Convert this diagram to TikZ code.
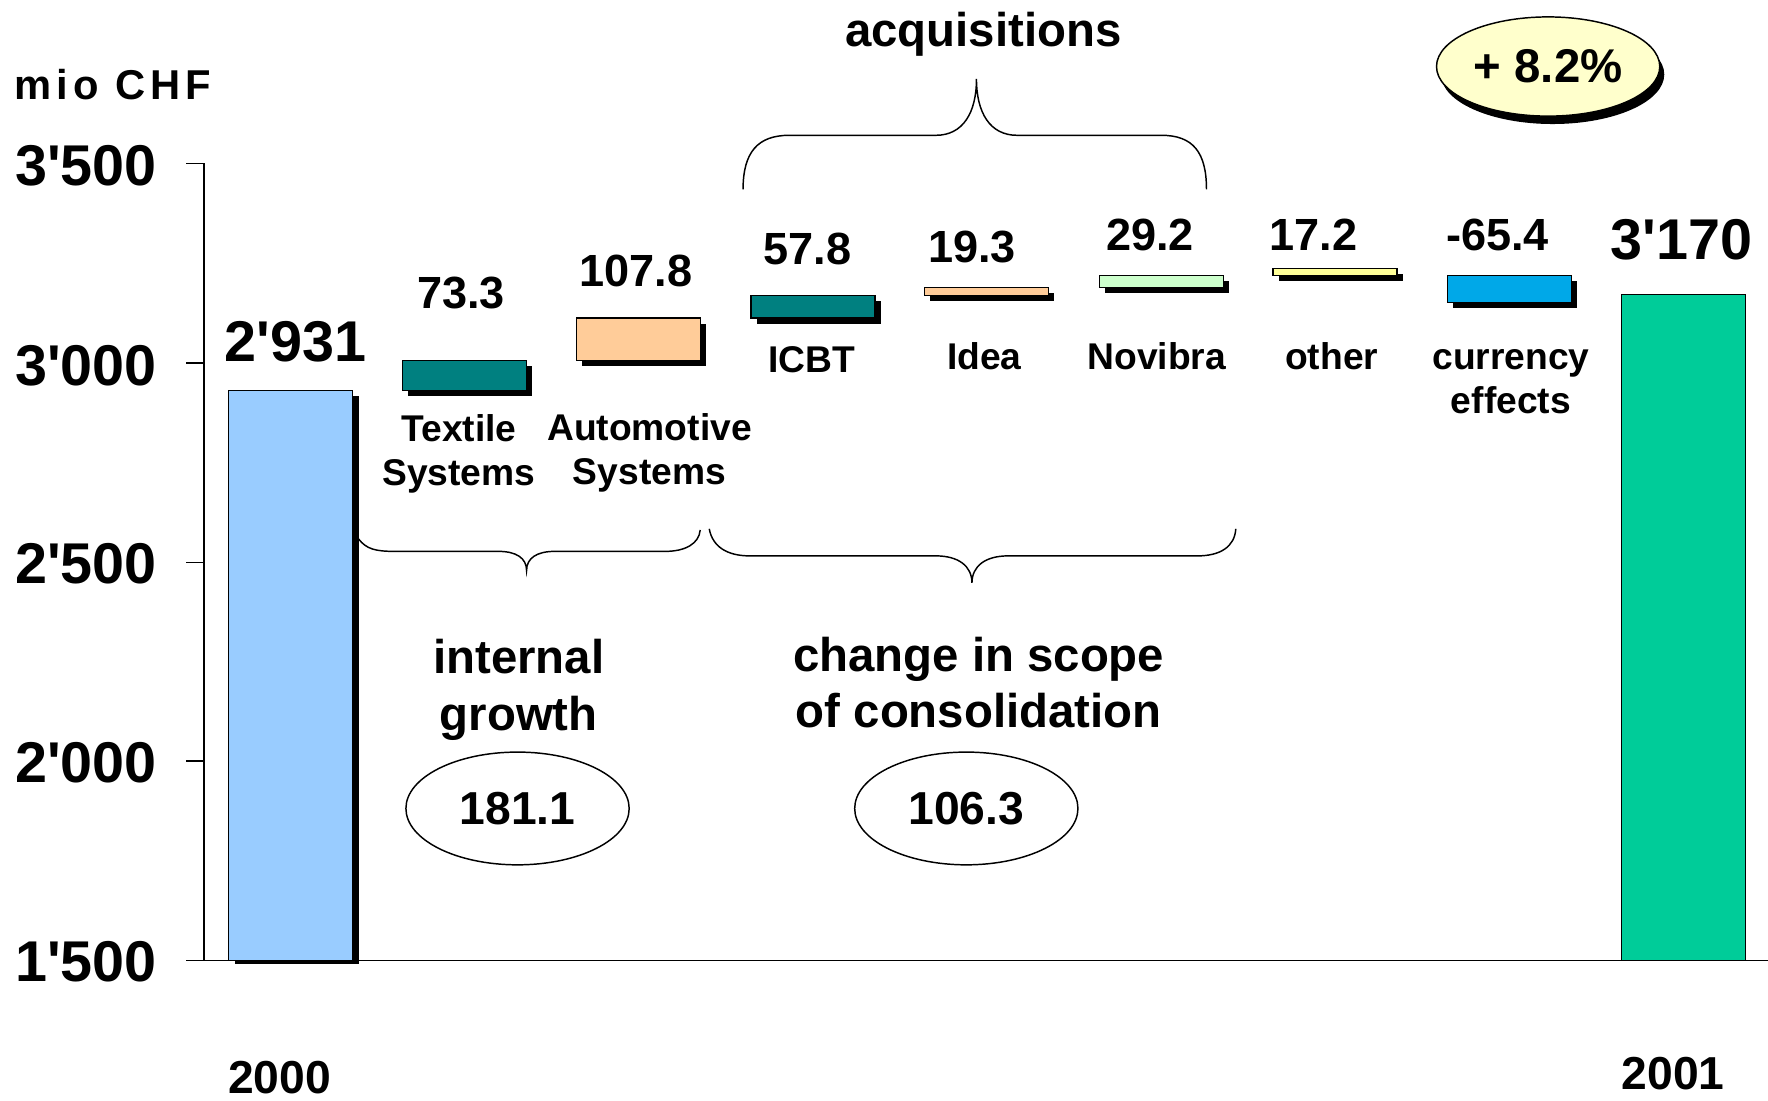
\documentclass[tikz,border=0pt]{standalone}
\usepackage{fontspec}
\setmainfont{Liberation Sans}
\usetikzlibrary{shapes.geometric}
\definecolor{cBlueBar}{HTML}{99CCFF}
\definecolor{cTeal}{HTML}{008080}
\definecolor{cPeach}{HTML}{FFCC99}
\definecolor{cMint}{HTML}{CCFFCC}
\definecolor{cLightYel}{HTML}{FFFF99}
\definecolor{cCurr}{HTML}{00A8E8}
\definecolor{cGreen}{HTML}{00CC99}
\definecolor{cEllYel}{HTML}{FFFFCC}
\newcommand\fsz[2]{\fontsize{#1}{#2}\selectfont\bfseries}
\newcommand\stq{\textquotesingle}
\newcommand\wfbar[5]{%
  \fill[black] (#1+5,#2+5) rectangle (#3+5,#4+5);
  \filldraw[fill=#5, draw=black, line width=1pt] (#1,#2) rectangle (#3,#4);}
\begin{document}
\begin{tikzpicture}[x=1pt,y=-1pt,
  txt/.style={inner sep=0pt, outer sep=0pt},
  axislbl/.style={txt, anchor=east, font=\fsz{51}{60}},
  vallbl/.style={txt, font=\fsz{40}{48}},
  biglbl/.style={txt, font=\fsz{51}{60}},
  catlbl/.style={txt, font=\fsz{33}{39}},
  grplbl/.style={txt, font=\fsz{42}{50}},
  ell/.style={ellipse, draw=black, line width=1.3pt, inner sep=0pt,
              minimum width=198pt, minimum height=100pt, font=\fsz{41}{48}},
  brace/.style={draw=black, line width=1.3pt},
  axisline/.style={draw=black, line width=1.2pt}]
\useasboundingbox (0,0) rectangle (1568,976);

% axes
\draw[axisline] (181,145) -- (181,852);
\draw[axisline] (165,852) -- (1568,852);
\foreach \yy in {145,322,499,675,852} \draw[axisline] (165,\yy) -- (181,\yy);

\node[txt, anchor=west, font=\fsz{37}{42}\addfontfeature{LetterSpace=12}] (unit) at (13,75) {mio CHF};
\node[axislbl] (y3500) at (139,147) {3\stq500};
\node[axislbl] (y3000) at (139,324) {3\stq000};
\node[axislbl] (y2500) at (139,500) {2\stq500};
\node[axislbl] (y2000) at (139,676) {2\stq000};
\node[axislbl] (y1500) at (139,853) {1\stq500};

% bars
\fill[black] (208,351) rectangle (318,855);
\filldraw[fill=cBlueBar, draw=black, line width=1pt] (203,346) rectangle (313,852);
\wfbar{357}{320}{467}{346}{cTeal}
\wfbar{511}{282}{621}{320}{cPeach}
\wfbar{666}{262}{776}{282}{cTeal}
\wfbar{820}{255}{930}{262}{cPeach}
\wfbar{975}{244}{1085}{255}{cMint}
\wfbar{1129}{238}{1239}{244}{cLightYel}
\wfbar{1284}{244}{1394}{268}{cCurr}
\filldraw[fill=cGreen, draw=black, line width=1.2pt] (1438,261) rectangle (1548,852);

% value labels
\node[biglbl] (v2000) at (262,303) {2\stq931};
\node[vallbl] (vtex) at (409,260) {73.3};
\node[vallbl] (vaut) at (564,240) {107.8};
\node[vallbl] (vicbt) at (716,221) {57.8};
\node[vallbl] (videa) at (862,219) {19.3};
\node[vallbl] (vnov) at (1020,208) {29.2};
\node[vallbl] (voth) at (1165,208) {17.2};
\node[vallbl] (vcur) at (1328,208) {-65.4};
\node[biglbl] (v2001) at (1491,213) {3\stq170};

% category labels
\node[catlbl, anchor=north, align=center] (ctex) at (407,368) {Textile\\Systems};
\node[catlbl, anchor=north, align=center] (caut) at (576,367) {Automotive\\Systems};
\node[catlbl, anchor=base] (cicbt) at (720,330) {ICBT};
\node[catlbl, anchor=base] (cidea) at (873,328) {Idea};
\node[catlbl, anchor=base] (cnov) at (1026,328) {Novibra};
\node[catlbl, anchor=base] (coth) at (1181,328) {other};
\node[catlbl, anchor=north, align=center] (ccur) at (1340,310) {currency\\effects};

% years
\node[grplbl, anchor=base, font=\fsz{41}{48}] (yr2000) at (248,970) {2000};
\node[grplbl, anchor=base, font=\fsz{41}{48}] (yr2001) at (1484,966) {2001};

% braces
\draw[brace] (659,168) .. controls (659,135) and (672,120) .. (700,120)
  -- (830,120) .. controls (854,120) and (866,100) .. (866,70)
  .. controls (866,100) and (878,120) .. (902,120)
  -- (1030,120) .. controls (1058,120) and (1070,135) .. (1070,168);
\node[grplbl, anchor=base] (acq) at (872,41) {acquisitions};

\draw[brace] (318,478) .. controls (325,487) and (333,489) .. (350,489)
  -- (442,489) .. controls (458,489) and (467,495) .. (467,506)
  .. controls (467,495) and (476,489) .. (492,489)
  -- (590,489) .. controls (608,489) and (620,482) .. (621,470);
\draw[brace] (629,469) .. controls (632,485) and (645,493) .. (665,493)
  -- (830,493) .. controls (850,493) and (862,502) .. (862,517)
  .. controls (862,502) and (874,493) .. (894,493)
  -- (1062,493) .. controls (1082,493) and (1095,485) .. (1096,469);

\node[grplbl, anchor=north, align=center] (intg) at (460,567) {internal\\growth};
\node[grplbl, anchor=north, align=center] (scope) at (868,565) {change in scope\\of consolidation};

\node[ell] (e1) at (459,717) {181.1};
\node[ell] (e2) at (857,717) {106.3};

% growth ellipse
\fill[black] (1377,66) ellipse [x radius=99pt, y radius=44pt];
\node[ell, fill=cEllYel, minimum height=88pt, font=\fsz{42}{50}] (growth) at (1373,59) {+ 8.2\%};
\end{tikzpicture}
\end{document}
